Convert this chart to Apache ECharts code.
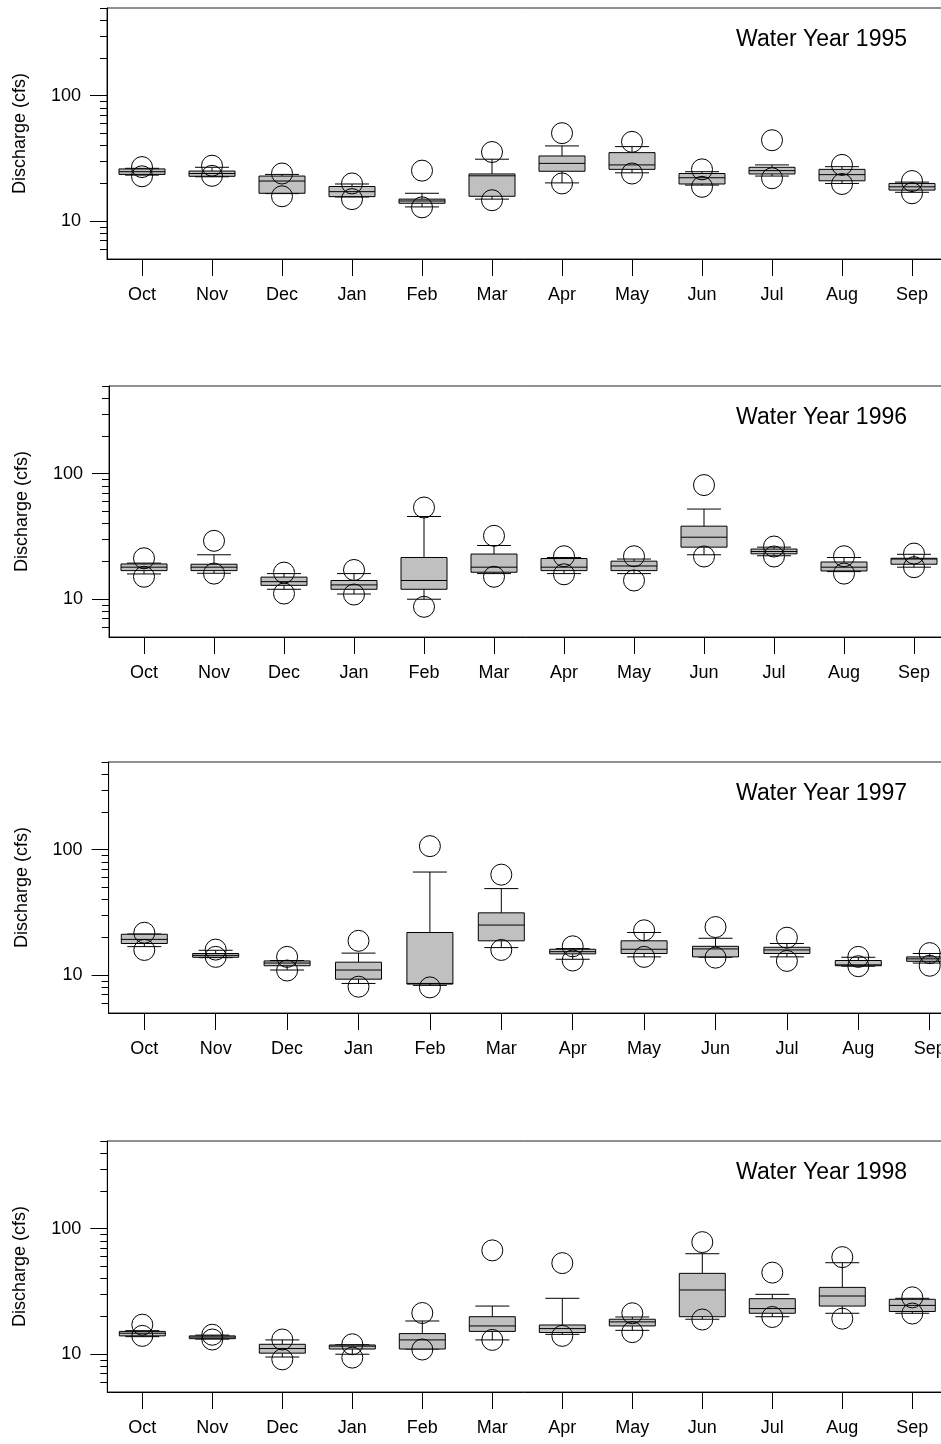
<!DOCTYPE html>
<html>
<head>
<meta charset="utf-8">
<title>Monthly discharge, Water Years 1995-1998</title>
<script src="https://cdn.jsdelivr.net/npm/echarts@6/dist/echarts.min.js"></script>
<style>
  html, body { margin: 0; padding: 0; background: #fff; }
  #chart { width: 941px; height: 1444px; }
</style>
</head>
<body>
<div id="chart"></div>
<script>
const months = ['Oct', 'Nov', 'Dec', 'Jan', 'Feb', 'Mar', 'Apr', 'May', 'Jun', 'Jul', 'Aug', 'Sep'];
const years = ['1995', '1996', '1997', '1998'];

// one row per month: min, whisker low, q1, median, q3, whisker high, max (cfs)
const wy1995 = [
  [22.8, 23.3, 23.6, 24.8, 26.1, 26.4, 27.0],
  [23.0, 22.6, 22.8, 24.0, 25.1, 26.9, 27.7],
  [15.8, 16.6, 16.7, 20.9, 22.9, 23.6, 24.0],
  [15.0, 15.6, 15.7, 17.2, 18.9, 19.8, 20.0],
  [12.9, 13.0, 13.9, 14.5, 15.0, 16.7, 25.3],
  [14.7, 15.0, 15.8, 23.0, 23.8, 31.2, 35.6],
  [20.0, 20.2, 25.0, 28.9, 33.1, 39.8, 50.3],
  [24.0, 24.3, 25.9, 28.1, 35.2, 39.3, 42.9],
  [18.8, 19.4, 19.8, 22.2, 24.0, 24.8, 25.9],
  [22.0, 22.9, 23.8, 25.3, 26.9, 28.1, 44.2],
  [19.8, 20.0, 21.0, 23.5, 25.9, 27.2, 28.1],
  [16.7, 17.0, 17.7, 18.8, 20.0, 20.5, 20.9]
];
const wy1996 = [
  [15.1, 15.9, 16.9, 18.0, 19.1, 19.4, 21.2],
  [16.0, 16.1, 16.9, 18.0, 19.0, 22.6, 29.2],
  [11.1, 12.0, 12.9, 13.8, 15.0, 16.0, 16.3],
  [10.9, 11.0, 12.0, 13.0, 14.1, 16.0, 17.1],
  [8.7, 10.0, 12.0, 14.1, 21.5, 45.6, 53.8],
  [15.1, 16.0, 16.4, 18.0, 22.9, 26.8, 32.0],
  [15.8, 16.0, 16.9, 18.0, 21.1, 21.5, 22.0],
  [14.1, 16.0, 16.9, 18.4, 20.1, 20.9, 22.0],
  [21.9, 22.6, 26.0, 31.2, 38.2, 52.3, 81.2],
  [21.9, 22.2, 23.0, 24.0, 25.1, 26.0, 26.3],
  [16.0, 16.6, 16.8, 18.0, 19.8, 21.5, 22.0],
  [18.0, 18.0, 19.0, 20.9, 21.2, 22.8, 23.1]
];
const wy1997 = [
  [15.9, 16.9, 17.9, 19.3, 21.2, 21.3, 21.8],
  [14.0, 13.8, 13.9, 14.4, 14.9, 15.8, 16.0],
  [10.9, 11.0, 11.9, 12.5, 13.0, 13.1, 14.0],
  [8.1, 8.6, 9.3, 11.0, 12.7, 15.0, 18.8],
  [8.0, 8.3, 8.5, 8.6, 21.9, 66.4, 106.8],
  [15.9, 16.6, 18.8, 25.1, 31.4, 49.0, 63.3],
  [13.1, 13.4, 14.8, 15.4, 16.1, 16.3, 17.0],
  [14.0, 14.0, 14.9, 16.1, 18.8, 21.9, 22.8],
  [13.8, 13.9, 14.0, 16.2, 17.0, 19.7, 24.2],
  [13.0, 14.0, 14.9, 15.9, 16.7, 17.9, 19.9],
  [11.8, 11.8, 11.9, 12.1, 13.1, 13.9, 14.0],
  [11.9, 12.5, 12.9, 13.5, 14.0, 14.9, 15.0]
];
const wy1998 = [
  [14.0, 13.8, 14.0, 14.7, 15.2, 15.4, 17.2],
  [13.1, 13.2, 13.3, 13.7, 14.0, 14.2, 14.3],
  [9.1, 9.5, 10.2, 11.1, 12.0, 13.0, 13.1],
  [9.4, 10.0, 11.0, 11.6, 11.85, 11.9, 12.0],
  [10.9, 11.0, 11.0, 13.0, 14.6, 18.4, 21.3],
  [13.0, 13.0, 15.2, 16.8, 19.9, 24.2, 67.2],
  [14.0, 14.4, 14.9, 16.0, 17.1, 27.9, 53.2],
  [15.0, 15.5, 16.8, 18.1, 19.0, 19.8, 21.2],
  [18.9, 19.0, 19.9, 32.5, 44.1, 63.2, 78.2],
  [19.8, 19.9, 21.2, 23.1, 27.7, 30.0, 44.7],
  [19.2, 21.2, 24.2, 29.1, 34.1, 53.6, 59.4],
  [21.1, 21.2, 21.9, 24.5, 27.4, 27.9, 28.4]
];
const yearData = [wy1995, wy1996, wy1997, wy1998];

const majorTicks = [10, 100];
const minorTicks = [6, 7, 8, 9, 20, 30, 40, 50, 60, 70, 80, 90, 200, 300, 400, 500];

const panels = [
  { top: 8, left: 107, step: 70 },
  { top: 386, left: 109, step: 70 },
  { top: 762, left: 108.6, step: 71.4 },
  { top: 1141, left: 107.3, step: 70 }
];
const plotH = 251;
const font = 'Liberation Sans, Arial, sans-serif';

function renderBox(params, api) {
  const x = api.value(0);
  const p = [];
  for (let i = 1; i <= 7; i++) p.push(api.coord([x, api.value(i)]));
  const cx = p[0][0];
  const boxW = 46, capW = 34, r = 10.5;
  const ln = { stroke: '#000', lineWidth: 1 };
  const line = (x1, y1, x2, y2) => ({ type: 'line', shape: { x1, y1, x2, y2 }, style: ln });
  return {
    type: 'group',
    children: [
      line(cx, p[5][1], cx, p[4][1]),
      line(cx, p[2][1], cx, p[1][1]),
      line(cx - capW / 2, p[5][1], cx + capW / 2, p[5][1]),
      line(cx - capW / 2, p[1][1], cx + capW / 2, p[1][1]),
      {
        type: 'rect',
        shape: { x: cx - boxW / 2, y: p[4][1], width: boxW, height: p[2][1] - p[4][1] },
        style: { fill: '#c0c0c0', stroke: '#000', lineWidth: 1 }
      },
      line(cx - boxW / 2, p[3][1], cx + boxW / 2, p[3][1]),
      { type: 'circle', shape: { cx: cx, cy: p[6][1], r: r }, style: { fill: 'none', stroke: '#000', lineWidth: 1 } },
      { type: 'circle', shape: { cx: cx, cy: p[0][1], r: r }, style: { fill: 'none', stroke: '#000', lineWidth: 1 } }
    ]
  };
}

const grid = [], xAxis = [], yAxis = [], series = [], title = [];
panels.forEach(function (pn, i) {
  grid.push({
    left: pn.left, top: pn.top, width: pn.step * months.length, height: plotH,
    show: true, borderColor: '#222', borderWidth: 1, backgroundColor: 'transparent',
    outerBoundsMode: 'none', containLabel: false
  });
  title.push({
    text: 'Water Year ' + years[i],
    right: 34, top: pn.top + 20, padding: 0,
    textStyle: { fontFamily: font, fontSize: 23, fontWeight: 'normal', color: '#000' }
  });
  xAxis.push({
    type: 'category', gridIndex: i, data: months, boundaryGap: true,
    axisLine: { show: true, onZero: false, lineStyle: { color: '#000', width: 1 } },
    axisTick: { show: true, alignWithLabel: true, length: 17, lineStyle: { color: '#000', width: 1 } },
    axisLabel: { margin: 27, fontFamily: font, fontSize: 18, color: '#000' },
    splitLine: { show: false }
  });
  yAxis.push({
    type: 'log', logBase: 10, gridIndex: i, min: 5, max: 500, position: 'left',
    name: 'Discharge (cfs)', nameLocation: 'middle', nameGap: 78,
    nameTextStyle: { fontFamily: font, fontSize: 18, color: '#000' },
    axisLine: { show: true, onZero: false, lineStyle: { color: '#000', width: 1 } },
    axisTick: { show: true, customValues: majorTicks, length: 17, lineStyle: { color: '#000', width: 1 } },
    axisLabel: { customValues: majorTicks, margin: 26, fontFamily: font, fontSize: 18, color: '#000' },
    splitLine: { show: false }, minorTick: { show: false }
  });
  yAxis.push({
    type: 'log', logBase: 10, gridIndex: i, min: 5, max: 500, position: 'left',
    axisLine: { show: false },
    axisTick: { show: true, customValues: minorTicks, length: 7, lineStyle: { color: '#000', width: 1 } },
    axisLabel: { show: false },
    splitLine: { show: false }
  });
  series.push({
    type: 'custom', xAxisIndex: i, yAxisIndex: 2 * i,
    renderItem: renderBox,
    encode: { x: 0, y: [1, 2, 3, 4, 5, 6, 7] },
    data: yearData[i].map(function (row, m) { return [m].concat(row); }),
    silent: true, clip: false
  });
});

const chart = echarts.init(document.getElementById('chart'), null, { renderer: 'canvas' });
chart.setOption({
  animation: false,
  backgroundColor: '#fff',
  title: title,
  grid: grid,
  xAxis: xAxis,
  yAxis: yAxis,
  series: series
});
</script>
</body>
</html>
